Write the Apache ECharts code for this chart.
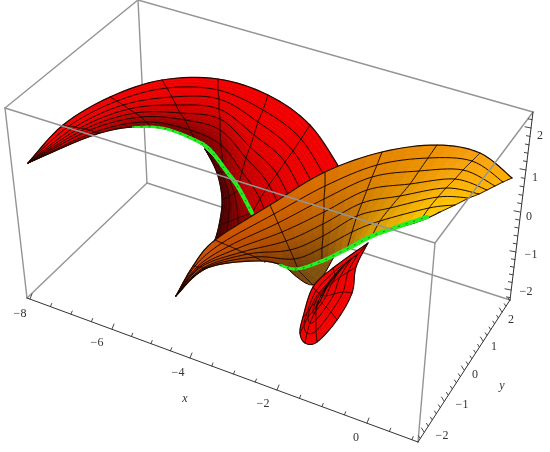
<!DOCTYPE html>
<html>
<head>
<meta charset="utf-8">
<title>Surface</title>
<style>
  html, body { margin: 0; padding: 0; background: #fff; }
  #chart { width: 550px; height: 452px; filter: blur(0.45px); }
</style>
<script src="https://cdn.jsdelivr.net/npm/echarts@6/dist/echarts.min.js"></script>
</head>
<body>
<div id="chart"></div>
<script>
// ECharts core has no 3D: every value is read off the picture plane (hidden value axes)
// ── Box ───────────────────────────────────────────────
const boxA = [27, 298], boxB = [418, 442], boxC = [510, 300], boxD = [533, 112]
const boxE = [5, 108], boxF = [138, 0], boxG = [147, 183], boxH = [435, 243]
const backEdges  = [[boxE, boxF], [boxF, boxD], [boxF, boxG], [boxG, boxA], [boxG, boxC]]
const frontEdges = [[boxE, boxH], [boxH, boxD], [boxH, boxB], [boxA, boxE]]
const axisEdges  = [[boxA, boxB], [boxB, boxC], [boxC, boxD]]

// ── Ticks ─────────────────────────────────────────────
const xTickLabels = ['−8', '−6', '−4', '−2', '0']
const xTickAt     = [[30, 299], [112, 329], [190, 358], [277, 390], [367, 423]]
const xLabelAt    = [[20, 314], [97, 343], [178, 373], [263, 404], [356, 438]]
const yTickLabels = ['−2', '−1', '0', '1', '2']
const yTickAt     = [[424, 432], [444, 401], [464, 370], [483, 341], [502, 312]]
const yLabelAt    = [[442, 436], [462, 405], [475, 375], [494, 347], [511, 320]]
const zTickLabels = ['−2', '−1', '0', '1', '2']
const zTickAt     = [[511, 290], [516, 252], [520, 212], [526, 170], [531, 128]]
const zLabelAt    = [[526, 292], [531, 255], [529, 217], [535, 178], [540, 136]]

// ── Red sheet: one list per mesh column, rim → green curve ──
const redTip  = Array(8).fill([28, 163])
const redCol1 = [[63, 125], [69, 126], [75, 127], [80, 128], [85, 129], [90, 130], [95, 132], [100, 133]]
const redCol2 = [[110, 97], [117, 101], [123, 105], [129, 109], [135, 113], [141, 117], [146, 122], [152, 127]]
const redCol3 = [[162, 80], [167, 88], [172, 97], [176, 105], [180, 113], [185, 120], [190, 130], [195, 140]]
const redCol4 = [[218, 79], [218, 90], [219, 99], [219, 109], [220, 119], [220, 130], [221, 145], [223, 166]]
const redCol5 = [[268, 95], [263, 110], [258, 122], [254, 135], [250, 147], [246, 158], [242, 172], [238, 187]]
const redCol6 = [[310, 125], [301, 139], [293, 151], [285, 162], [277, 174], [269, 185], [260, 199], [252, 213]]
const redCol7 = [[342, 172], [330, 186], [320, 198], [310, 210], [300, 222], [290, 233], [278, 247], [265, 262]]

// Dark underside left of the green curve, silhouette → green
const underCol0 = Array(4).fill([205, 149])
const underCol1 = [[217, 173], [221, 172], [225, 172], [228, 172]]
const underCol2 = [[222, 200], [229, 197], [234, 193], [241, 190]]
const underCol3 = [[219, 225], [228, 222], [238, 218], [252, 213]]
const underCol4 = [[214, 243], [225, 245], [238, 245], [262, 240]]

// ── Orange sheet: rim → green curve ───────────────────
const orangeTip  = Array(8).fill([176, 296])
const orangeColY = [[193, 266], [195, 266], [197, 267], [199, 267], [201, 267], [203, 268], [205, 268], [207, 268]]
const orangeColZ = [[215, 240], [222, 243], [229, 246], [236, 249], [242, 252], [248, 254], [255, 257], [262, 261]]
const orangeColA = [[270, 205], [274, 214], [278, 223], [282, 232], [286, 241], [290, 250], [294, 259], [298, 269]]
const orangeColB = [[325, 172], [325, 186], [324, 199], [324, 212], [323, 224], [323, 236], [322, 248], [322, 261]]
const orangeColC = [[382, 152], [377, 165], [372, 177], [367, 190], [362, 203], [357, 216], [352, 232], [347, 249]]
const orangeColD = [[437, 145], [428, 158], [419, 171], [410, 184], [400, 196], [390, 208], [380, 221], [372, 236]]
const orangeColE = [[480, 153], [472, 161], [463, 170], [455, 179], [446, 188], [438, 197], [429, 208], [420, 221]]
const orangeEnd  = [[512, 178], [503, 182], [495, 186], [487, 190], [479, 194], [469, 198], [455, 205], [440, 212]]

// Brown fold under the orange sheet
const foldCol0 = [[282, 264], [282, 264]]
const foldCol1 = [[298, 270], [313, 285]]
const foldCol2 = [[322, 261], [335, 255]]

// ── Red leaf: closed rings, outer → inner ─────────────
const leafRing0 = [[368, 243], [356, 267], [352, 293], [337, 320], [317, 342], [305, 343], [300, 333], [303, 317], [313, 287], [333, 268], [368, 243]]
const leafRing1 = [[358, 254], [348, 272], [343, 292], [331, 312], [316, 331], [307, 333], [304, 325], [307, 313], [316, 291], [334, 272], [358, 254]]
const leafRing2 = [[352, 258], [340, 277], [334, 294], [326, 307], [316, 320], [310, 323], [308, 317], [311, 307], [319, 293], [335, 276], [352, 258]]
const leafRing3 = [[342, 267], [332, 283], [326, 296], [322, 303], [316, 311], [314, 314], [313, 311], [315, 303], [320, 294], [333, 279], [342, 267]]
const leafRing4 = [[331, 279], [327, 287], [323, 295], [320, 301], [317, 306], [316, 309], [316, 307], [318, 302], [321, 296], [326, 287], [331, 279]]

// ── Green curves ──────────────────────────────────────
const greenUpper = [[133, 127], [163, 128], [195, 140], [210, 150], [227, 172], [238, 187], [252, 213]]
const greenLower = [[280, 265], [297, 269], [322, 261], [347, 249], [372, 236], [400, 226], [427, 217]]

// ── Palette ───────────────────────────────────────────
const redDarkening = [0.15, 0.3, 0.58, 0.62, 0.5, 0.3, 0.22, 0.15]
const orangeRim    = ['#c44400', '#c84800', '#cc5200', '#d46400', '#dc7400', '#e58400', '#ee9000', '#f8a010', '#ffb000']
const orangeGreen  = ['#b84000', '#b84000', '#8a3c00', '#6a3808', '#7a4808', '#b07008', '#d8a000', '#ffcc00', '#ffc800']

const SUB = 4 // subdivisiones por celda

function toRgb(hex) {
  return [1, 3, 5].map(i => parseInt(hex.slice(i, i + 2), 16))
}

function mix(a, b, t) {
  const ca = toRgb(a), cb = toRgb(b)
  return 'rgb(' + ca.map((c, i) => Math.round(c + (cb[i] - c) * t)).join(',') + ')'
}

function toHex(rgb) {
  const m = rgb.match(/\d+/g).map(Number)
  return '#' + m.map(n => n.toString(16).padStart(2, '0')).join('')
}

function along(stops, u) {
  const p = Math.min(u * (stops.length - 1), stops.length - 1.0001)
  const i = Math.floor(p)
  return [stops[i], stops[i + 1], p - i]
}

function redShade(u, v) {
  const [a, b, t] = along(redDarkening, u)
  const dark = (a + (b - a) * t) * Math.pow(v, 2.2)
  return mix('#f00000', '#000000', dark)
}

function underShade(u, v) {
  return mix('#3c0000', '#a80000', v)
}

function orangeShade(u, v) {
  const [r0, r1, rt] = along(orangeRim, u)
  const [g0, g1, gt] = along(orangeGreen, u)
  const top = toHex(mix(r0, r1, rt)), low = toHex(mix(g0, g1, gt))
  return mix(top, low, Math.pow(v, 1.5))
}

function foldShade(u, v) {
  return mix('#6a3808', '#8a5c10', u)
}

function leafShade(u, v) {
  return mix('#f40000', '#e80000', v)
}

// Catmull-Rom por los puntos leídos, sólo para que las curvas no salgan quebradas
function spline(pts, s) {
  const n = pts.length - 1
  const i = Math.min(Math.floor(s), n - 1)
  const t = s - i
  const p0 = pts[Math.max(i - 1, 0)], p1 = pts[i], p2 = pts[i + 1], p3 = pts[Math.min(i + 2, n)]
  return [0, 1].map(k => 0.5 * (2 * p1[k] + (p2[k] - p0[k]) * t +
    (2 * p0[k] - 5 * p1[k] + 4 * p2[k] - p3[k]) * t * t +
    (3 * p1[k] - p0[k] - 3 * p2[k] + p3[k]) * t * t * t))
}

function surfacePoint(grid, c, r) {
  return spline(grid.map(col => spline(col, r)), c)
}

function curve(pts, steps) {
  const out = []
  for (let s = 0; s <= (pts.length - 1) * steps; s++) out.push(spline(pts, s / steps))
  return out
}

// Parches rellenos de una malla
function patchSeries(grid, shade, z) {
  const nc = grid.length - 1, nr = grid[0].length - 1
  const patches = []
  for (let c = 0; c < nc * SUB; c++) {
    for (let r = 0; r < nr * SUB; r++) {
      const c0 = c / SUB, c1 = (c + 1) / SUB, r0 = r / SUB, r1 = (r + 1) / SUB
      patches.push({
        points: [surfacePoint(grid, c0, r0), surfacePoint(grid, c1, r0), surfacePoint(grid, c1, r1), surfacePoint(grid, c0, r1)],
        fill: shade((c0 + c1) / 2 / nc, (r0 + r1) / 2 / nr),
      })
    }
  }
  return {
    type: 'custom', coordinateSystem: 'cartesian2d', silent: true, z, clip: false, progressive: 0,
    encode: { x: 0, y: 1 },
    data: patches.map(p => p.points[0]),
    renderItem: (params, api) => {
      const p = patches[params.dataIndex]
      return {
        type: 'polygon',
        shape: { points: p.points.map(q => api.coord(q)) },
        style: { fill: p.fill, stroke: p.fill, lineWidth: 0.7 },
      }
    },
  }
}

// Polilíneas genéricas: [{ points, stroke, width, dash }]
function lineSeries(lines, z) {
  return {
    type: 'custom', coordinateSystem: 'cartesian2d', silent: true, z, clip: false, progressive: 0,
    encode: { x: 0, y: 1 },
    data: lines.map(l => l.points[0]),
    renderItem: (params, api) => {
      const l = lines[params.dataIndex]
      return {
        type: 'polyline',
        shape: { points: l.points.map(q => api.coord(q)) },
        style: { stroke: l.stroke, lineWidth: l.width, fill: 'none', lineDash: l.dash || null, lineCap: 'round', lineJoin: 'round' },
      }
    },
  }
}

function meshLines(grid, width) {
  const nc = grid.length - 1, nr = grid[0].length - 1
  const lines = []
  for (let r = 0; r <= nr; r++) {
    const pts = []
    for (let s = 0; s <= nc * 8; s++) pts.push(surfacePoint(grid, s / 8, r))
    lines.push({ points: pts, stroke: '#1c0800', width: r === 0 || r === nr ? width + 0.2 : width })
  }
  for (let c = 0; c <= nc; c++) {
    const pts = []
    for (let s = 0; s <= nr * 8; s++) pts.push(surfacePoint(grid, c, s / 8))
    lines.push({ points: pts, stroke: '#1c0800', width })
  }
  return lines
}

function greenLines(pts, startWidth, endWidth) {
  const smooth = curve(pts, 6)
  const lines = []
  for (let i = 0; i < smooth.length - 1; i++) {
    const w = startWidth + (endWidth - startWidth) * Math.min(1, i / (smooth.length * 0.5))
    lines.push({ points: [smooth[i], smooth[i + 1]], stroke: '#26ee22', width: w })
  }
  lines.push({ points: smooth, stroke: '#0c5a08', width: 0.8, dash: [1, 7] })
  return lines
}

function tickLines(at, minors, dir, before, after) {
  const lines = []
  const seg = (p, f) => ({ points: [p, [p[0] + dir[0] * f, p[1] + dir[1] * f]], stroke: '#333', width: 0.9 })
  at.forEach((p, i) => {
    lines.push(seg(p, 1))
    if (i === at.length - 1) return
    const q = at[i + 1]
    for (let m = 1; m <= minors; m++) {
      const t = m / (minors + 1)
      lines.push(seg([p[0] + (q[0] - p[0]) * t, p[1] + (q[1] - p[1]) * t], 0.6))
    }
  })
  // marcas sueltas fuera de la primera y la última principal
  const first = [at[1][0] - at[0][0], at[1][1] - at[0][1]]
  for (let m = 1; m <= before; m++) {
    const t = m / (minors + 1)
    lines.push(seg([at[0][0] - first[0] * t, at[0][1] - first[1] * t], 0.6))
  }
  const n = at.length - 1
  const last = [at[n][0] - at[n - 1][0], at[n][1] - at[n - 1][1]]
  for (let m = 1; m <= after; m++) {
    const t = m / (minors + 1)
    lines.push(seg([at[n][0] + last[0] * t, at[n][1] + last[1] * t], 0.6))
  }
  return lines
}

function textSeries(items, z) {
  return {
    type: 'custom', coordinateSystem: 'cartesian2d', silent: true, z, clip: false,
    encode: { x: 0, y: 1 },
    data: items.map(t => t.at),
    renderItem: (params, api) => {
      const t = items[params.dataIndex]
      const [x, y] = api.coord(t.at)
      return {
        type: 'text', x, y,
        style: {
          text: t.text, fill: '#333', align: 'center', verticalAlign: 'middle',
          font: (t.italic ? 'italic ' : '') + '12px "Liberation Serif", serif',
        },
      }
    },
  }
}

const edges = list => list.map(e => ({ points: e, stroke: '#949494', width: 1.4 }))
const labels = (texts, at) => texts.map((text, i) => ({ text, at: at[i] }))

const redGrid    = [redTip, redCol1, redCol2, redCol3, redCol4, redCol5, redCol6, redCol7]
const underGrid  = [underCol0, underCol1, underCol2, underCol3, underCol4]
const orangeGrid = [orangeTip, orangeColY, orangeColZ, orangeColA, orangeColB, orangeColC, orangeColD, orangeColE, orangeEnd]
const foldGrid   = [foldCol0, foldCol1, foldCol2]
const leafGrid   = [leafRing0, leafRing1, leafRing2, leafRing3, leafRing4]
  .reduce((cols, ring) => { ring.forEach((p, i) => (cols[i] = cols[i] || []).push(p)); return cols }, [])

const series = [
  lineSeries(edges(backEdges), 1),
  patchSeries(underGrid, underShade, 2),
  lineSeries(meshLines(underGrid, 0.8), 3),
  patchSeries(redGrid, redShade, 4),
  lineSeries(meshLines(redGrid, 1), 5),
  lineSeries(greenLines(greenUpper, 2, 4), 6),
  patchSeries(foldGrid, foldShade, 7),
  lineSeries(meshLines(foldGrid, 0.8), 8),
  patchSeries(leafGrid, leafShade, 9),
  lineSeries(meshLines(leafGrid, 0.9), 10),
  patchSeries(orangeGrid, orangeShade, 11),
  lineSeries(meshLines(orangeGrid, 1), 12),
  lineSeries(greenLines(greenLower, 2.5, 4.2), 13),
  lineSeries(edges(frontEdges), 14),
  lineSeries(axisEdges.map(e => ({ points: e, stroke: '#333', width: 1 })), 15),
  lineSeries(tickLines(xTickAt, 3, [2, -5], 0, 2), 15),
  lineSeries(tickLines(yTickAt, 4, [-2.5, -4], 1, 2), 15),
  lineSeries(tickLines(zTickAt, 4, [-6, -1.2], 1, 1), 15),
  textSeries([
    ...labels(xTickLabels, xLabelAt),
    ...labels(yTickLabels, yLabelAt),
    ...labels(zTickLabels, zLabelAt),
    { text: 'x', at: [185, 399], italic: true },
    { text: 'y', at: [502, 386], italic: true },
  ], 16),
]

const chart = echarts.init(document.getElementById('chart'), null, { renderer: 'canvas' })
chart.setOption({
  animation: false,
  backgroundColor: '#fff',
  tooltip: { show: false },
  grid: { left: 0, right: 0, top: 0, bottom: 0 },
  xAxis: { type: 'value', min: 0, max: 550, show: false },
  yAxis: { type: 'value', min: 0, max: 452, inverse: true, show: false },
  series,
})
</script>
</body>
</html>
